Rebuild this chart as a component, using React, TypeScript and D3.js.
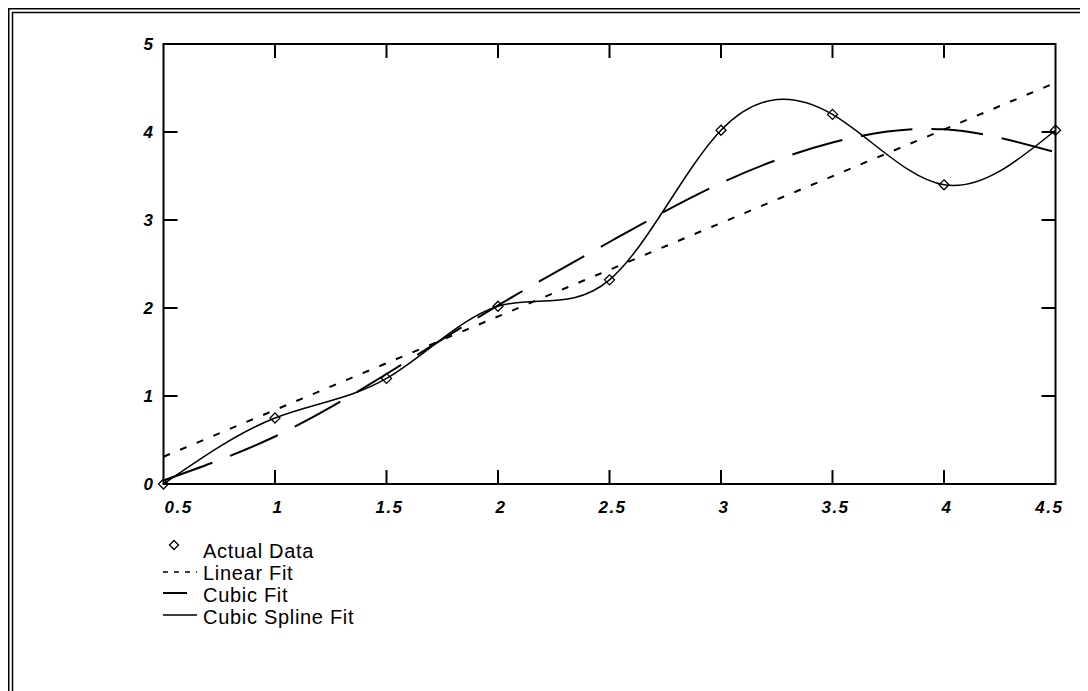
import React from "react";
import * as d3 from "d3";

const xValues = [0.5, 1, 1.5, 2, 2.5, 3, 3.5, 4, 4.5];
const actualData = [0, 0.75, 1.2, 2.02, 2.32, 4.02, 4.2, 3.4, 4.02];
const linearX = [0.5, 4.5];
const linearFit = [0.31, 4.56];
const cubicFit = [0.04, 0.54, 1.25, 2.03, 2.75, 3.42, 3.88, 4.03, 3.77];
const xTicks = [0.5, 1, 1.5, 2, 2.5, 3, 3.5, 4, 4.5];
const yTicks = [0, 1, 2, 3, 4, 5];
const legendLabels = ["Actual Data", "Linear Fit", "Cubic Fit", "Cubic Spline Fit"];

const W = 1080;
const H = 683;
const left = 155.5, right = 1047.5, top = 36, bottom = 476;

export default function App() {
  const x = d3.scaleLinear().domain([0.5, 4.5]).range([left, right]);
  const y = d3.scaleLinear().domain([0, 5]).range([bottom, top]);

  const pts = (xs: number[], ys: number[]) => xs.map((v, i) => [v, ys[i]] as [number, number]);

  const straight = d3.line<[number, number]>().x(d => x(d[0])).y(d => y(d[1]));
  const smooth = d3.line<[number, number]>().x(d => x(d[0])).y(d => y(d[1])).curve(d3.curveNatural);

  const diamond = (cx: number, cy: number, r = 5) =>
    `M${cx},${cy - r}L${cx + r},${cy}L${cx},${cy + r}L${cx - r},${cy}Z`;

  const tickLen = 14;
  const inner = xTicks.slice(1, -1);
  const innerY = yTicks.slice(1, -1);
  const lblFont = { fontFamily: "'Liberation Sans', Arial, sans-serif", fontSize: 17, fontWeight: 700, fontStyle: "italic" as const, letterSpacing: 1.5 };

  const legX0 = 155, legX1 = 189, legTX = 195, legY0 = 550, legDY = 22;

  return (
    <svg width={W} height={H} style={{ display: "block" }}>
      <rect x={0} y={0} width={W} height={H} fill="#fff" />
      {/* double frame */}
      <path d={`M0.75,${H + 5}V0.75H${W + 5}`} fill="none" stroke="#000" strokeWidth={1.5} />
      <path d={`M4.5,${H + 5}V4.5H${W + 5}`} fill="none" stroke="#000" strokeWidth={1.5} />

      {/* axes box */}
      <rect x={left} y={top} width={right - left} height={bottom - top} fill="none" stroke="#000" strokeWidth={2} />
      {inner.map(t => (
        <g key={"xt" + t}>
          <line x1={x(t)} x2={x(t)} y1={bottom} y2={bottom - tickLen} stroke="#000" strokeWidth={2} />
          <line x1={x(t)} x2={x(t)} y1={top} y2={top + tickLen} stroke="#000" strokeWidth={2} />
        </g>
      ))}
      {innerY.map(t => (
        <g key={"yt" + t}>
          <line x1={left} x2={left + tickLen} y1={y(t)} y2={y(t)} stroke="#000" strokeWidth={2} />
          <line x1={right} x2={right - tickLen} y1={y(t)} y2={y(t)} stroke="#000" strokeWidth={2} />
        </g>
      ))}
      {xTicks.map((t, i) => (
        <text key={"xl" + t} x={i === 0 ? x(t) + 1 : i === xTicks.length - 1 ? x(t) + 8 : x(t) + 3}
          y={bottom + 29}
          textAnchor={i === 0 ? "start" : i === xTicks.length - 1 ? "end" : "middle"}
          style={lblFont}>{String(t)}</text>
      ))}
      {yTicks.map(t => (
        <text key={"yl" + t} x={left - 9} y={y(t) + 6} textAnchor="end" style={lblFont}>{String(t)}</text>
      ))}

      <defs>
        <clipPath id="plotclip"><rect x={left} y={top} width={right - left} height={bottom - top} /></clipPath>
      </defs>
      <g clipPath="url(#plotclip)">
        <path d={straight(pts(linearX, linearFit)) || ""} fill="none" stroke="#000" strokeWidth={2} strokeDasharray="7,11" />
        <path d={smooth(pts(xValues, cubicFit)) || ""} fill="none" stroke="#000" strokeWidth={2} strokeDasharray="52,19" />
        <path d={smooth(pts(xValues, actualData)) || ""} fill="none" stroke="#000" strokeWidth={1.5} />
      </g>
      {xValues.map((v, i) => (
        <path key={"d" + i} d={diamond(x(v), y(actualData[i]))} fill="none" stroke="#000" strokeWidth={1.3} />
      ))}

      {/* legend */}
      <path d={diamond(166, legY0 - 13, 4.5)} fill="none" stroke="#000" strokeWidth={1.3} />
      <line x1={legX0} x2={legX1} y1={legY0 + legDY - 8} y2={legY0 + legDY - 8} stroke="#000" strokeWidth={1.5} strokeDasharray="5,6" />
      <line x1={legX0} x2={legX1 - 10} y1={legY0 + 2 * legDY - 9} y2={legY0 + 2 * legDY - 9} stroke="#000" strokeWidth={2} />
      <line x1={legX0} x2={legX1} y1={legY0 + 3 * legDY - 9} y2={legY0 + 3 * legDY - 9} stroke="#000" strokeWidth={1.5} />
      {legendLabels.map((l, i) => (
        <text key={l} x={legTX} y={legY0 + i * legDY} style={{ fontFamily: "'Liberation Sans', Arial, sans-serif", fontSize: 20, letterSpacing: 0.7 }}>{l}</text>
      ))}
    </svg>
  );
}
